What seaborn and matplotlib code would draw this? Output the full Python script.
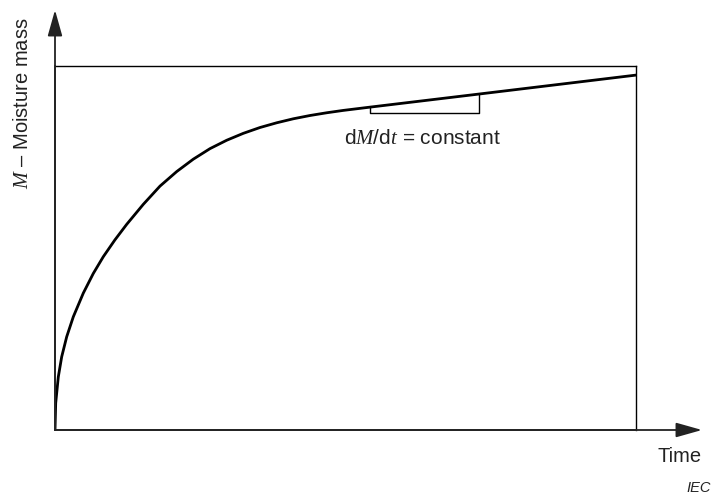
import numpy as np
import pandas as pd
import matplotlib
matplotlib.use('Agg')
import matplotlib.pyplot as plt
import seaborn as sns

# --- curve (time and moisture in % of the box) ---
time = [0.0, 0.12, 0.57, 1.15, 2.01, 3.15, 4.87, 6.59, 8.31, 10.3, 12.34,
        15.2, 18.07, 20.95, 23.8, 26.68, 29.55, 32.41, 35.28, 38.16, 41.02,
        43.89, 46.76, 49.62, 54.22, 73.0, 100.0]
moisture = [0.0, 7.4, 14.6, 20.1, 25.6, 31.1, 37.6, 43.0, 47.6, 52.2, 56.5,
            62.0, 67.0, 71.0, 74.4, 77.3, 79.6, 81.5, 83.1, 84.4, 85.5,
            86.4, 87.15, 87.8, 88.7, 92.3, 97.5]
slope_from, slope_to = 54.22, 73.0   # where the dM/dt bracket sits

df = pd.DataFrame({'time': time, 'moisture': moisture})

sns.set_theme(style='white')
plt.rcParams['font.family'] = ['Liberation Sans', 'DejaVu Sans']
plt.rcParams['mathtext.fontset'] = 'custom'
plt.rcParams['mathtext.it'] = 'Liberation Serif:italic'
plt.rcParams['mathtext.rm'] = 'Liberation Sans'
plt.rcParams['mathtext.sf'] = 'Liberation Sans'

fig = plt.figure(figsize=(7.12, 4.95), dpi=100)
ax = fig.add_axes([55 / 712, 65 / 495, 581 / 712, 364 / 495])

sns.lineplot(data=df, x='time', y='moisture', color='black', lw=2.0, ax=ax)
ax.set_xlim(0, 100)
ax.set_ylim(0, 100)
ax.set_xticks([])
ax.set_yticks([])
ax.set_xlabel('')
ax.set_ylabel('')

for s in ['top', 'right']:
    ax.spines[s].set_color('black')
    ax.spines[s].set_linewidth(1.0)
for s in ['left', 'bottom']:
    ax.spines[s].set_color('#333333')
    ax.spines[s].set_linewidth(1.3)

# bracket under the linear part
m0 = np.interp(slope_from, time, moisture)
m1 = np.interp(slope_to, time, moisture)
base = m0 - 1.5
ax.plot([slope_from, slope_from, slope_to, slope_to], [m0, base, base, m1],
        color='black', lw=1.0)
ax.text(49.8, 78.6, r'$\mathsf{d}\mathit{M}\mathsf{/d}\mathit{t}$ = constant',
        fontsize=15, color='#222222', va='baseline')

# axis arrows
arrow = dict(arrowstyle='-|>,head_length=1.6,head_width=0.45', mutation_scale=10,
             color='#222222', lw=1.3, shrinkA=0, shrinkB=0)
ax.annotate('', xy=(647 / 581, 0), xytext=(0, 0), xycoords='axes fraction',
            arrowprops=arrow, annotation_clip=False)
ax.annotate('', xy=(0, 420 / 364), xytext=(0, 0), xycoords='axes fraction',
            arrowprops=arrow, annotation_clip=False)

fig.text(23 / 712, 1 - 103 / 495, r'$\mathit{M}$ – Moisture mass', rotation=90,
         ha='center', va='center', fontsize=14.5, color='#222222')
fig.text(657 / 712, 1 - 462 / 495, 'Time', fontsize=14.5, color='#222222',
         va='baseline')
fig.text(711 / 712, 1 - 492 / 495, 'IEC', fontsize=10.5, style='italic',
         color='#222222', ha='right', va='baseline')

fig.savefig('out.png', dpi=100)
